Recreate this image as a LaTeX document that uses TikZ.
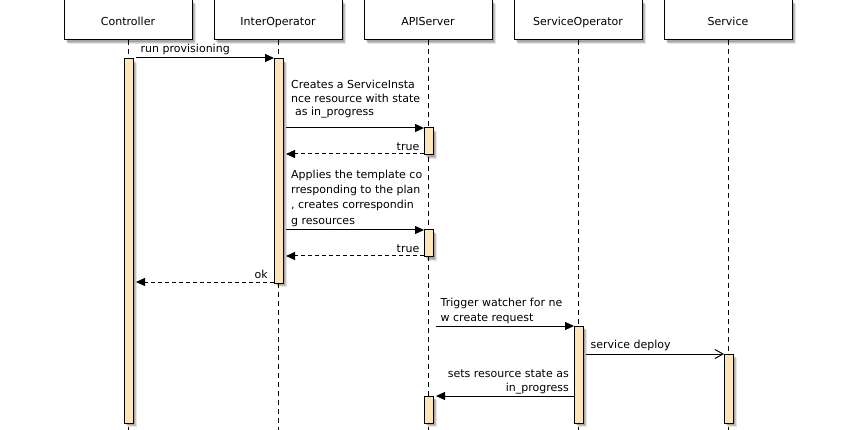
\documentclass[tikz,border=0pt]{standalone}
\usepackage{fontspec}
\setmainfont{DejaVu Sans}
\usetikzlibrary{arrows.meta,shadows}
\definecolor{barfill}{RGB}{254,229,185}
\tikzset{
  softshadow/.style={
    drop shadow={shadow xshift=4pt,shadow yshift=-4pt,fill=black,opacity=0.10},
    drop shadow={shadow xshift=3pt,shadow yshift=-3pt,fill=black,opacity=0.15},
    drop shadow={shadow xshift=2pt,shadow yshift=-2pt,fill=black,opacity=0.15}},
  partbox/.style={draw=black,line width=1pt,fill=white,softshadow},
  lifeline/.style={draw=black,line width=1pt,dash pattern=on 5pt off 4pt},
  actbar/.style={draw=black,line width=1pt,fill=barfill,softshadow},
  msg/.style={draw=black,line width=1pt,-{Triangle[length=9pt,width=8pt]}},
  ret/.style={draw=black,line width=1pt,dash pattern=on 4pt off 3pt,-{Triangle[length=9pt,width=8pt]}},
  asyncmsg/.style={draw=black,line width=1pt,-{Straight Barb[length=8pt,width=9pt,line width=1pt]}},
  lbl/.style={inner sep=0pt,font=\fontsize{11}{14}\selectfont},
  plbl/.style={inner sep=0pt,font=\fontsize{11}{14}\selectfont,anchor=base},
}
\begin{document}
\begin{tikzpicture}[x=1pt,y=-1pt]
\useasboundingbox (0,0) rectangle (856,430);
% participant boxes
\foreach \n/\lx/\t in {pc/128/Controller,pi/278/InterOperator,pa/428/APIServer,ps/578/ServiceOperator,pv/728/Service}{
  \draw[partbox] (\lx-64,0) rectangle (\lx+64,40);
  \node[plbl] (\n) at (\lx,26) {\t};
  \draw[lifeline] (\lx,40) -- (\lx,430);
}
% activation bars
\draw[actbar] (124,59) rectangle (133,423);
\draw[actbar] (274,59) rectangle (283,283);
\draw[actbar] (424,128) rectangle (433,155);
\draw[actbar] (424,230) rectangle (433,257);
\draw[actbar] (424,396) rectangle (433,423);
\draw[actbar] (574,326) rectangle (583,423);
\draw[actbar] (724,354) rectangle (733,423);
% endpoints
\coordinate (a1s) at (136,58);  \coordinate (a1e) at (274,58);
\coordinate (a2s) at (286,128); \coordinate (a2e) at (424,128);
\coordinate (a3s) at (424,154); \coordinate (a3e) at (286,154);
\coordinate (a4s) at (286,230); \coordinate (a4e) at (424,230);
\coordinate (a5s) at (424,256); \coordinate (a5e) at (286,256);
\coordinate (a6s) at (274,282); \coordinate (a6e) at (136,282);
\coordinate (a7s) at (436,326); \coordinate (a7e) at (574,326);
\coordinate (a8s) at (586,354); \coordinate (a8e) at (724,354);
\coordinate (a9s) at (574,396); \coordinate (a9e) at (436,396);
% messages
\draw[msg] (a1s) -- (a1e);
\draw[msg] (a2s) -- (a2e);
\draw[ret] (a3s) -- (a3e);
\draw[msg] (a4s) -- (a4e);
\draw[ret] (a5s) -- (a5e);
\draw[ret] (a6s) -- (a6e);
\draw[msg] (a7s) -- (a7e);
\draw[asyncmsg] (a8s) -- (a8e);
\draw[msg] (a9s) -- (a9e);
% labels
\node[lbl,anchor=base west] (l1) at (140.5,53) {run provisioning};
\node[lbl,anchor=base west] (l2a) at (291,88.5) {Creates a ServiceInsta};
\node[lbl,anchor=base west] (l2b) at (291,102.5) {nce resource with state};
\node[lbl,anchor=base west] (l2c) at (295,116) {as in\_progress};
\node[lbl,anchor=base east] (l3) at (419.5,150.5) {true};
\node[lbl,anchor=base west] (l4a) at (291,178.5) {Applies the template co};
\node[lbl,anchor=base west] (l4b) at (291,194) {rresponding to the plan};
\node[lbl,anchor=base west] (l4c) at (291,209) {, creates correspondin};
\node[lbl,anchor=base west] (l4d) at (291,224.5) {g resources};
\node[lbl,anchor=base east] (l5) at (419.5,252.5) {true};
\node[lbl,anchor=base east] (l6) at (268,279) {ok};
\node[lbl,anchor=base west] (l7a) at (440.5,306) {Trigger watcher for ne};
\node[lbl,anchor=base west] (l7b) at (440.5,321.5) {w create request};
\node[lbl,anchor=base west] (l8) at (590.5,348.5) {service deploy};
\node[lbl,anchor=base east] (l9a) at (569,377.5) {sets resource state as};
\node[lbl,anchor=base east] (l9b) at (569,391) {in\_progress};
\end{tikzpicture}
\end{document}
